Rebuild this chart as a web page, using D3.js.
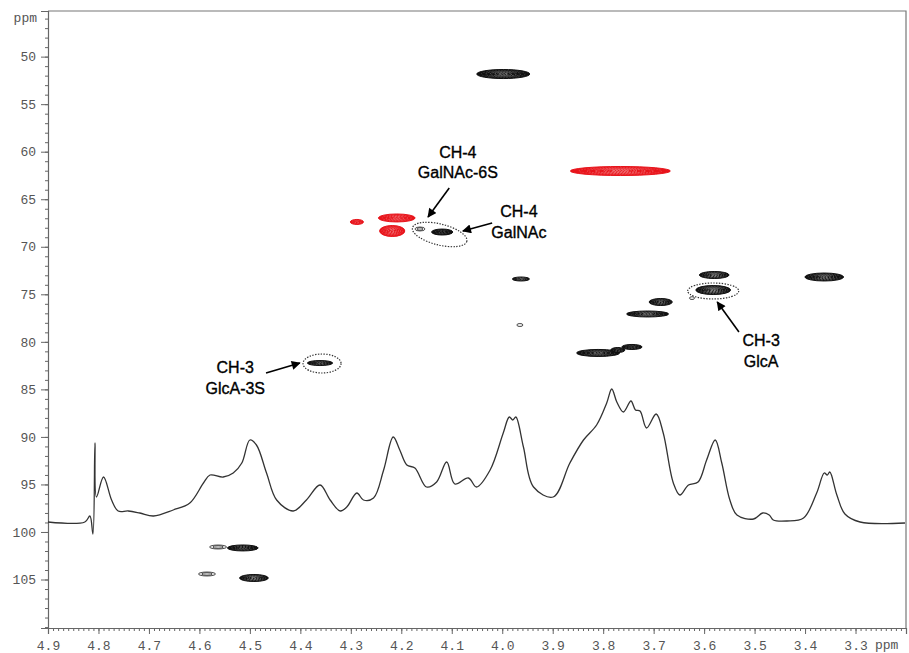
<!DOCTYPE html>
<html>
<head>
<meta charset="utf-8">
<title>HSQC</title>
<script src="https://d3js.org/d3.v7.min.js"></script>
<style>
    body { margin: 0; background: #fff; }
    .axis text {
        font-family: "Liberation Mono", "DejaVu Sans Mono", monospace;
        font-size: 13px;
        fill: #555;
    }
    .axis path, .axis line { stroke: #666; }
    .note {
        font-family: "Liberation Sans", Arial, sans-serif;
        font-size: 16px;
        fill: #000;
        stroke: #000;
        stroke-width: 0.35;
    }
</style>
</head>
<body>
<svg id="chart" width="909" height="653"></svg>
<script>
    // axis ticks
    const xTicks = [4.9, 4.8, 4.7, 4.6, 4.5, 4.4, 4.3, 4.2, 4.1, 4.0, 3.9, 3.8, 3.7, 3.6, 3.5, 3.4, 3.3];
    const yTicks = [50, 55, 60, 65, 70, 75, 80, 85, 90, 95, 100, 105];

    // 1D proton trace (ppm, intensity)
    const traceH = [4.900, 4.827, 4.817, 4.811, 4.807, 4.804, 4.790, 4.774, 4.761, 4.741, 4.718, 4.691,
        4.652, 4.619, 4.592, 4.579, 4.553, 4.533, 4.516, 4.500, 4.487, 4.467, 4.447, 4.414, 4.388,
        4.361, 4.341, 4.321, 4.308, 4.288, 4.275, 4.255, 4.235, 4.216, 4.203, 4.189, 4.173, 4.150,
        4.130, 4.110, 4.094, 4.067, 4.051, 4.024, 3.998, 3.986, 3.979, 3.973, 3.958, 3.938, 3.899,
        3.866, 3.839, 3.813, 3.793, 3.783, 3.773, 3.760, 3.745, 3.736, 3.727, 3.714, 3.695, 3.681,
        3.661, 3.648, 3.631, 3.612, 3.595, 3.578, 3.565, 3.549, 3.535, 3.502, 3.484, 3.471, 3.463,
        3.436, 3.403, 3.377, 3.362, 3.356, 3.351, 3.337, 3.321, 3.291, 3.202];
    const traceI = [0, 0, 6, -12, 79, 25, 45, 22, 11, 11, 9, 6,
        12, 19, 39, 47, 45, 49, 59, 82, 77, 49, 22, 11, 22,
        37, 22, 11, 15, 29, 22, 24, 52, 85, 72, 57, 54, 35,
        40, 60, 38, 44, 35, 52, 89, 105, 102, 105, 75, 35, 25,
        59, 82, 97, 119, 133, 120, 110, 121, 112, 111, 94, 108, 89,
        39, 27, 37, 40, 62, 82, 59, 22, 7, 3, 9, 7, 2,
        1, 4, 29, 49, 47, 50, 27, 8, 0, -1];

    // cross peaks: 1H shift, 13C shift, width (1H ppm), height (13C ppm), contour levels, phase
    const peakH = [3.998, 3.963, 3.965, 3.580, 3.582, 3.362, 3.686, 3.712, 3.810, 3.771, 3.743,
        4.361, 4.163, 4.119, 4.514, 4.563, 4.585, 4.492, 3.624,
        3.766, 4.288, 4.209, 4.218];
    const peakC = [51.83, 73.39, 78.23, 72.97, 74.55, 73.18, 75.81, 77.07, 81.17, 80.86, 80.54,
        82.23, 68.13, 68.45, 101.68, 101.58, 104.42, 104.84, 75.40,
        62.03, 67.39, 66.97, 68.34];
    const peakW = [0.105, 0.034, 0.012, 0.059, 0.069, 0.077, 0.046, 0.083, 0.085, 0.028, 0.040,
        0.050, 0.020, 0.042, 0.061, 0.034, 0.034, 0.057, 0.010,
        0.198, 0.026, 0.073, 0.050];
    const peakHt = [0.95, 0.42, 0.32, 0.74, 0.95, 0.84, 0.74, 0.63, 0.74, 0.53, 0.53,
        0.53, 0.42, 0.63, 0.63, 0.42, 0.42, 0.74, 0.30,
        0.95, 0.53, 0.84, 1.16];
    const peakLevels = [6, 4, 1, 6, 7, 6, 5, 5, 5, 3, 3,
        4, 2, 3, 4, 2, 2, 6, 1,
        6, 3, 5, 6];
    const peakPhase = [1, 1, 1, 1, 1, 1, 1, 1, 1, 1, 1,
        1, 1, 1, 1, 1, 1, 1, 1,
        -1, -1, -1, -1];

    // assignments
    const noteLines = [["CH-4", "GalNAc-6S"], ["CH-4", "GalNAc"], ["CH-3", "GlcA"], ["CH-3", "GlcA-3S"]];
    const noteAt = [[4.088, 60.66], [3.967, 66.87], [3.487, 80.44], [4.529, 83.28]];
    const arrowFrom = [[4.105, 63.82], [4.020, 67.50], [3.531, 78.96], [4.468, 83.28]];
    const arrowTo = [[4.147, 66.87], [4.078, 68.34], [3.574, 75.81], [4.401, 82.23]];
    const ringAt = [[4.124, 68.71], [3.582, 74.65], [4.357, 82.28]];

    const svg = d3.select("#chart");
    const mLeft = 48, mRight = 906, mTop = 11, mBottom = 628;

    const x = d3.scaleLinear().domain([4.9, 3.2]).range([mLeft, mRight]);
    const y = d3.scaleLinear().domain([45.2, 110.1]).range([mTop, mBottom]);
    const yInt = d3.scaleLinear().domain([0, 133]).range([522, 389]);
    const phaseColor = d3.scaleOrdinal().domain([1, -1]).range(["#111", "#e8141b"]);

    // frame
    svg.append("path")
        .attr("d", `M${mLeft},${mTop}H${mRight}V${mBottom}`)
        .attr("fill", "none").attr("stroke", "#777").attr("stroke-width", 1.2);

    // minor ticks
    svg.append("g").attr("class", "axis")
        .attr("transform", `translate(0,${mBottom})`)
        .call(d3.axisBottom(x).tickValues(d3.range(321, 491).map(v => v / 100)).tickSize(3).tickFormat(""))
        .call(g => g.select(".domain").remove());
    svg.append("g").attr("class", "axis")
        .attr("transform", `translate(${mLeft},0)`)
        .call(d3.axisLeft(y).tickValues(d3.range(46, 111)).tickSize(3).tickFormat(""))
        .call(g => g.select(".domain").remove());

    // major ticks + labels
    svg.append("g").attr("class", "axis")
        .attr("transform", `translate(0,${mBottom})`)
        .call(d3.axisBottom(x).tickValues(xTicks).tickSize(6).tickPadding(7).tickFormat(d3.format(".1f")))
        .call(g => g.select(".domain").attr("stroke-width", 1.2));
    svg.append("g").attr("class", "axis")
        .attr("transform", `translate(${mLeft},0)`)
        .call(d3.axisLeft(y).tickValues(yTicks).tickSize(7).tickPadding(5))
        .call(g => g.select(".domain").attr("stroke-width", 1.2));

    svg.append("text").attr("x", 37).attr("y", 22)
        .attr("text-anchor", "end")
        .style("font-family", "Liberation Mono, monospace").style("font-size", "13px").style("fill", "#555")
        .text("ppm");
    svg.append("text").attr("x", 875).attr("y", 649)
        .style("font-family", "Liberation Mono, monospace").style("font-size", "13px").style("fill", "#555")
        .text("ppm");

    // 1D trace
    const line = d3.line()
        .x((d, i) => x(traceH[i]))
        .y((d, i) => yInt(traceI[i]))
        .curve(d3.curveCatmullRom.alpha(0.5));
    svg.append("path")
        .datum(traceH)
        .attr("d", line)
        .attr("fill", "none")
        .attr("stroke", "#333")
        .attr("stroke-width", 1.3);

    // cross peaks as nested contours
    const peaks = svg.append("g");
    peakH.forEach((h, i) => {
        const cx = x(h), cy = y(peakC[i]);
        const rx = Math.abs(x(h + peakW[i] / 2) - cx);
        const ry = Math.abs(y(peakC[i] + peakHt[i] / 2) - cy);
        const col = phaseColor(peakPhase[i]);
        const n = peakLevels[i];
        const g = peaks.append("g");
        if (n >= 3) {
            g.append("ellipse").attr("cx", cx).attr("cy", cy).attr("rx", rx).attr("ry", ry)
                .attr("fill", col).attr("stroke", col).attr("stroke-width", 1);
            for (let k = 1; k < n; k++) {
                const f = 1 - k / n;
                g.append("ellipse").attr("cx", cx).attr("cy", cy)
                    .attr("rx", rx * f).attr("ry", ry * f * 0.9)
                    .attr("fill", "none").attr("stroke", "#fff")
                    .attr("stroke-width", 0.5).attr("stroke-opacity", 0.15 + 0.12 * k)
                    .attr("stroke-dasharray", "2,1");
            }
        } else {
            for (let k = 0; k < n; k++) {
                const f = 1 - k / (n + 0.5);
                g.append("ellipse").attr("cx", cx).attr("cy", cy)
                    .attr("rx", rx * f).attr("ry", ry * f)
                    .attr("fill", k === 0 ? "#eee" : "none").attr("stroke", col)
                    .attr("stroke-width", 0.9).attr("stroke-opacity", 0.8);
            }
        }
    });

    // dotted selection rings
    const ringSize = [[28, 10.5, 14], [25.5, 8, 0], [19, 9.5, 0]];
    ringAt.forEach((p, i) => {
        const cx = x(p[0]), cy = y(p[1]);
        svg.append("ellipse")
            .attr("cx", cx).attr("cy", cy)
            .attr("rx", ringSize[i][0]).attr("ry", ringSize[i][1])
            .attr("transform", `rotate(${ringSize[i][2]},${cx},${cy})`)
            .attr("fill", "none").attr("stroke", "#333")
            .attr("stroke-width", 1.2).attr("stroke-dasharray", "1.4,1.4");
    });

    // arrows
    svg.append("defs").append("marker")
        .attr("id", "head").attr("viewBox", "0 0 10 10")
        .attr("refX", 9).attr("refY", 5)
        .attr("markerWidth", 10).attr("markerHeight", 9)
        .attr("markerUnits", "userSpaceOnUse")
        .attr("orient", "auto")
        .append("path").attr("d", "M0,0L10,5L0,10z").attr("fill", "#000");

    arrowFrom.forEach((p, i) => {
        svg.append("line")
            .attr("x1", x(p[0])).attr("y1", y(p[1]))
            .attr("x2", x(arrowTo[i][0])).attr("y2", y(arrowTo[i][1]))
            .attr("stroke", "#000").attr("stroke-width", 1.6)
            .attr("marker-end", "url(#head)");
    });

    // labels
    noteLines.forEach((lines, i) => {
        const t = svg.append("text").attr("class", "note")
            .attr("text-anchor", "middle")
            .attr("x", x(noteAt[i][0])).attr("y", y(noteAt[i][1]));
        lines.forEach((s, j) => {
            t.append("tspan").attr("x", x(noteAt[i][0])).attr("dy", j === 0 ? 0 : 20.5).text(s);
        });
    });
</script>
</body>
</html>
